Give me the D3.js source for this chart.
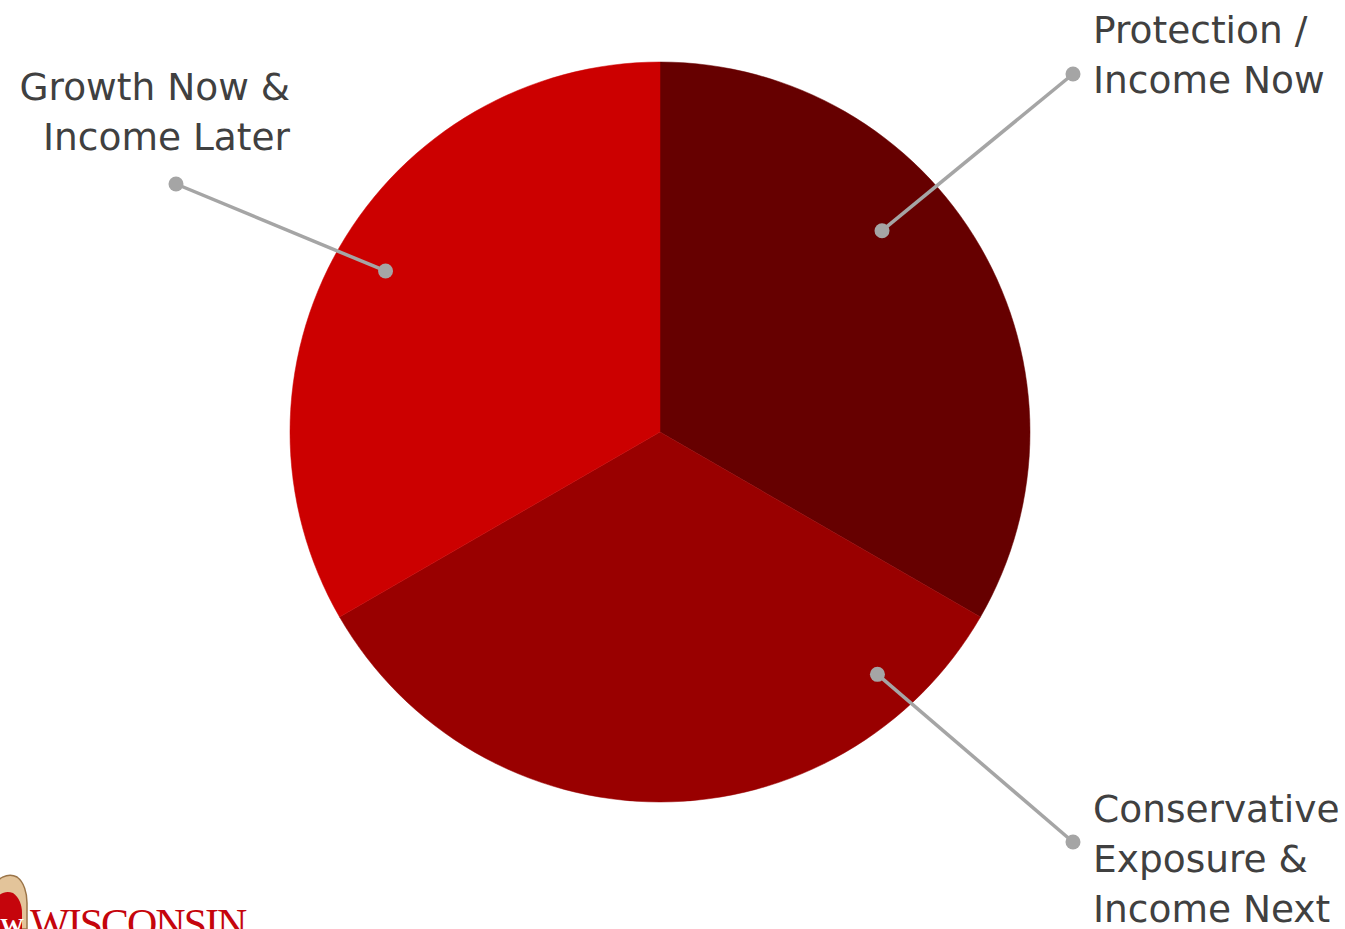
<!DOCTYPE html>
<html><head><meta charset="utf-8">
<script src="https://cdn.jsdelivr.net/npm/d3@7/dist/d3.min.js"></script>
<style>html,body{margin:0;padding:0;background:#fff;overflow:hidden}</style>
</head><body>
<svg id="c" width="1345" height="929"></svg>
<script>
// data
const categories = ["Protection / Income Now", "Conservative Exposure & Income Next", "Growth Now & Income Later"];
const values = [1, 1, 1];
const labelLines = [["Protection /", "Income Now"], ["Conservative", "Exposure &", "Income Next"], ["Growth Now &", "Income Later"]];
const colors = ["#660000", "#990000", "#cc0000"];

// layout
const W = 1345, H = 929, cx = 660, cy = 432, R = 370;
const dotAngleDeg = [47.8, 138.1, 300.4];
const dotRadFrac = [0.81, 0.88, 0.86];
const leaderEnd = [[1073, 74], [1073, 842], [176, 184]];
const textAnchor = ["start", "start", "end"];
const textX = [1093, 1093, 290];
const textY0 = [43, 822, 100];
const lineH = 50;

const svg = d3.select("#c");
const g = svg.append("g").attr("transform", `translate(${cx},${cy})`);
const pie = d3.pie().sort(null).startAngle(0).endAngle(2 * Math.PI);
const arc = d3.arc().innerRadius(0).outerRadius(R);
const arcs = pie(values);
g.selectAll("path").data(arcs).join("path")
  .attr("d", arc).attr("fill", (d, i) => colors[i])
  .attr("stroke", (d, i) => colors[i]).attr("stroke-width", 0.5);

// leaders
const ang = d3.scaleLinear().domain([0, 360]).range([0, 2 * Math.PI]);
categories.forEach((c, i) => {
  const a = ang(dotAngleDeg[i]);
  const r = R * dotRadFrac[i];
  const px = cx + r * Math.sin(a), py = cy - r * Math.cos(a);
  const [ex, ey] = leaderEnd[i];
  svg.append("line").attr("x1", px).attr("y1", py).attr("x2", ex).attr("y2", ey)
    .attr("stroke", "#a5a5a5").attr("stroke-width", 3.5);
  svg.append("circle").attr("cx", px).attr("cy", py).attr("r", 7.5).attr("fill", "#a5a5a5");
  svg.append("circle").attr("cx", ex).attr("cy", ey).attr("r", 7.5).attr("fill", "#a5a5a5");
  const t = svg.append("text").attr("text-anchor", textAnchor[i])
    .attr("font-family", "DejaVu Sans").attr("font-size", 37.5).attr("fill", "#404040");
  labelLines[i].forEach((ln, j) => {
    t.append("tspan").attr("x", textX[i]).attr("y", textY0[i] + j * lineH).text(ln);
  });
});

// logo (partially cut off at bottom)
const logo = svg.append("g");
logo.append("path")
  .attr("d", "M-8,929 L-8,890 C-4,878 8,872 17,877 C24,882 27,893 27,903 L27,929 Z")
  .attr("fill", "#e3c49a").attr("stroke", "#9a7448").attr("stroke-width", 1.5);
logo.append("path")
  .attr("d", "M-5,929 L-5,902 C-2,893 6,890 13,893 C19,897 22,905 22,913 L22,929 Z")
  .attr("fill", "#c5050c");
logo.append("text").attr("x", 0).attr("y", 934).attr("font-family", "Liberation Serif")
  .attr("font-size", 24).attr("font-weight", "bold").attr("fill", "#fff").text("W");
logo.append("text").attr("x", 30).attr("y", 938).attr("font-family", "Liberation Serif")
  .attr("font-size", 42).attr("fill", "#c5050c").attr("letter-spacing", -2).text("WISCONSIN");
</script>
</body></html>
